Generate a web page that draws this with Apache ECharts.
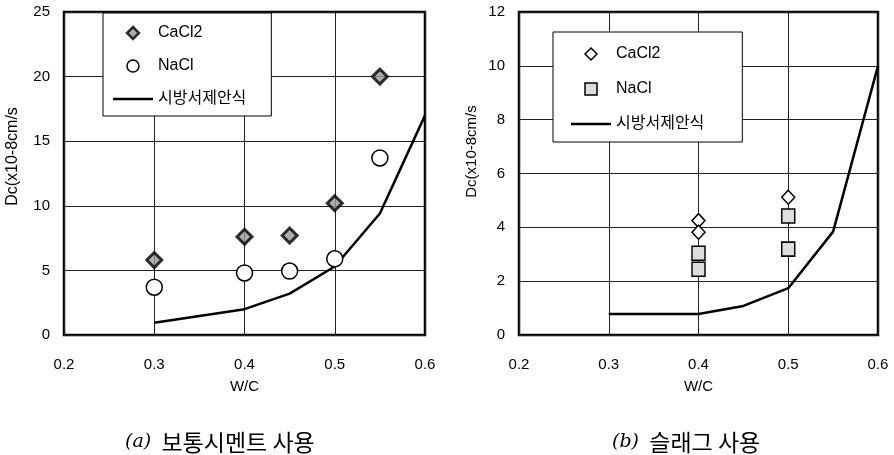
<!DOCTYPE html>
<html>
<head>
<meta charset="utf-8">
<script src="https://cdn.jsdelivr.net/npm/echarts@6/dist/echarts.min.js"></script>
<style>html,body{margin:0;padding:0;background:#fff;}#c{width:894px;height:455px;}</style>
</head>
<body>
<div id="c"></div>
<script>
// ---- data (a) ordinary cement ----
const wcA = [0.3, 0.4, 0.45, 0.5, 0.55];
const caA = [5.8, 7.6, 7.7, 10.2, 20.0];
const naA = [3.7, 4.8, 4.95, 5.9, 13.7];
const specX = [0.3, 0.4, 0.45, 0.5, 0.55, 0.6];
const specA = [0.95, 2.0, 3.2, 5.3, 9.4, 17.0];
// ---- data (b) slag ----
const caBx = [0.4, 0.4, 0.5];
const caBy = [4.25, 3.82, 5.12];
const naBx = [0.4, 0.4, 0.5, 0.5];
const naBy = [3.04, 2.44, 4.42, 3.19];
const specB = [0.78, 0.78, 1.08, 1.74, 3.84, 10.0];
// ---- axis / text ----
const xTicks = {min: 0.2, max: 0.6, interval: 0.1};
const yA = {min: 0, max: 25, interval: 5};
const yB = {min: 0, max: 12, interval: 2};
const yName = 'Dc(x10-8cm/s';
const xName = 'W/C';
const legendNames = ['CaCl2', 'NaCl', '시방서제안식'];
const titleA = ['(a)', '보통시멘트 사용'];
const titleB = ['(b)', '슬래그 사용'];

const pairs = (xs, ys) => xs.map((x, i) => [x, ys[i]]);
const FONT = 'Liberation Sans, "Noto Sans CJK KR", sans-serif';
const ICON_DIAMOND = 'path://M5,0L10,5L5,10L0,5Z';
const ICON_SQUARE = 'path://M0,0L10,0L10,10L0,10Z';
const ICON_LINE = 'path://M0,0L40,0L40,2.6L0,2.6Z';

function xAxis(gi) {
  return {
    type: 'value', gridIndex: gi, min: xTicks.min, max: xTicks.max, interval: xTicks.interval,
    name: xName, nameLocation: 'middle', nameGap: 44,
    nameTextStyle: {color: '#000', fontSize: 15, fontFamily: FONT},
    axisLine: {show: false}, axisTick: {show: false},
    axisLabel: {color: '#000', fontSize: 15, fontFamily: FONT, margin: 22, formatter: v => v.toFixed(1)},
    splitLine: {show: true, lineStyle: {color: '#222', width: 1}}
  };
}
function yAxis(gi, r, gap, fs, shift) {
  return {
    type: 'value', gridIndex: gi, min: r.min, max: r.max, interval: r.interval,
    name: yName, nameLocation: 'middle', nameGap: gap,
    nameTextStyle: {color: '#000', fontSize: fs, fontFamily: FONT, padding: [0, 0, 0, shift]},
    axisLine: {show: false}, axisTick: {show: false},
    axisLabel: {color: '#000', fontSize: 15, fontFamily: FONT, margin: 14},
    splitLine: {show: true, lineStyle: {color: '#222', width: 1}}
  };
}
function legend(suffix, left, top, pad, gap, ih, icons) {
  return {
    orient: 'vertical', left: left, top: top, padding: pad, itemGap: gap,
    itemWidth: 40, itemHeight: ih, symbolKeepAspect: true,
    backgroundColor: '#fff', borderColor: '#000', borderWidth: 1,
    textStyle: {color: '#000', fontSize: 16, fontFamily: FONT},
    formatter: n => n.split('|')[0],
    selectedMode: false,
    data: legendNames.map((n, i) => Object.assign({name: n + '|' + suffix}, icons[i]))
  };
}
const titleStyle = {
  color: '#000', fontSize: 23, fontWeight: 'normal', fontFamily: '"Noto Sans CJK KR", serif',
  rich: {i: {fontFamily: 'DejaVu Serif', fontStyle: 'italic', fontSize: 19, color: '#000'}}
};

const chart = echarts.init(document.getElementById('c'));
chart.setOption({
  animation: false,
  backgroundColor: '#fff',
  title: [
    {text: '{i|' + titleA[0] + '}  ' + titleA[1], left: 120, top: 426, textStyle: titleStyle},
    {text: '{i|' + titleB[0] + '}  ' + titleB[1], left: 607, top: 426, textStyle: titleStyle}
  ],
  grid: [
    {left: 64, top: 12, width: 361, height: 323, show: true, borderColor: '#000', borderWidth: 2.5, backgroundColor: 'transparent'},
    {left: 519, top: 12, width: 359, height: 323, show: true, borderColor: '#000', borderWidth: 2.5, backgroundColor: 'transparent'}
  ],
  xAxis: [xAxis(0), xAxis(1)],
  yAxis: [yAxis(0, yA, 43, 16, 34), yAxis(1, yB, 40, 15, 44)],
  legend: [
    legend('a', 103, 13, [12, 25, 9, 10], 17, 12, [
      {icon: ICON_DIAMOND, itemStyle: {color: '#999', borderColor: '#000', borderWidth: 2.5}},
      {icon: 'circle', itemStyle: {color: '#fff', borderColor: '#000', borderWidth: 1.5}},
      {icon: ICON_LINE, itemStyle: {color: '#000', borderWidth: 0}}
    ]),
    legend('b', 553, 32, [14, 38, 10, 18], 19, 12, [
      {icon: ICON_DIAMOND, itemStyle: {color: '#fff', borderColor: '#000', borderWidth: 1.5}},
      {icon: ICON_SQUARE, itemStyle: {color: '#ddd', borderColor: '#000', borderWidth: 1.5}},
      {icon: ICON_LINE, itemStyle: {color: '#000', borderWidth: 0}}
    ])
  ],
  series: [
    {name: '시방서제안식|a', type: 'line', xAxisIndex: 0, yAxisIndex: 0, data: pairs(specX, specA),
     symbol: 'none', lineStyle: {color: '#000', width: 2.5}, itemStyle: {color: '#000'}, z: 3},
    {name: 'CaCl2|a', type: 'scatter', xAxisIndex: 0, yAxisIndex: 0, data: pairs(wcA, caA),
     symbol: 'diamond', symbolSize: 15, itemStyle: {color: '#999', borderColor: '#000', borderWidth: 3}, z: 4},
    {name: 'NaCl|a', type: 'scatter', xAxisIndex: 0, yAxisIndex: 0, data: pairs(wcA, naA),
     symbol: 'circle', symbolSize: 16, itemStyle: {color: '#fff', borderColor: '#000', borderWidth: 1.5, opacity: 1}, z: 4},
    {name: '시방서제안식|b', type: 'line', xAxisIndex: 1, yAxisIndex: 1, data: pairs(specX, specB),
     symbol: 'none', lineStyle: {color: '#000', width: 2.5}, itemStyle: {color: '#000'}, z: 3},
    {name: 'CaCl2|b', type: 'scatter', xAxisIndex: 1, yAxisIndex: 1, data: pairs(caBx, caBy),
     symbol: 'diamond', symbolSize: [13, 14], itemStyle: {color: '#fff', borderColor: '#000', borderWidth: 1.5, opacity: 1}, z: 4},
    {name: 'NaCl|b', type: 'scatter', xAxisIndex: 1, yAxisIndex: 1, data: pairs(naBx, naBy),
     symbol: 'rect', symbolSize: [13, 14], itemStyle: {color: '#ddd', borderColor: '#000', borderWidth: 1.5, opacity: 1}, z: 4}
  ]
});
</script>
</body>
</html>
